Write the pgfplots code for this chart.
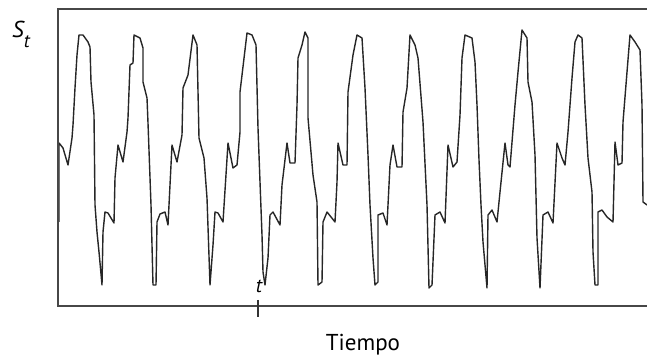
\documentclass[border=0pt]{standalone}
\usepackage{pgfplots}
\pgfplotsset{compat=1.18}
\usepackage{fontspec}
\setmainfont{PT Sans}
\begin{document}
\begin{tikzpicture}
\path[use as bounding box] (0,0) rectangle (647bp,356bp);
\begin{axis}[
  at={(58bp,50bp)}, anchor=south west,
  scale only axis, width=589bp, height=297bp,
  xmin=58, xmax=647, ymin=0, ymax=297,
  axis line style={draw=none},
  xtick=\empty, ytick=\empty,
  clip=false,
]
\addplot[color=black!85, line width=1.4bp, line join=round] coordinates {
(59,84) (59,163) (63,158) (68,141) (72,168) (73,181) (75,218) (77,251) (79,271) (83,271) (88,264) (90,259) (91,224) (94,191) (95,101) (97,74) (99,54) (102,21)
(103,74) (105,94) (108,93) (114,83) (115,128) (118,161) (123,144) (127,174) (128,188) (130,241) (133,243) (134,271) (140,268) (143,258) (143,224) (147,208) (148,183) (151,101) (153,21) (156,21)
(157,84) (160,92) (165,94) (168,81) (172,161) (177,144) (182,171) (183,218) (188,231) (193,271) (197,261) (199,168) (204,148) (207,108) (210,21)
(213,61) (215,94) (218,93) (223,84) (228,163) (233,138) (237,141) (240,174) (240,214) (247,273) (252,271) (256,261) (258,178) (260,124) (262,71) (263,34) (265,21)
(268,48) (270,91) (273,94) (280,81) (282,121) (287,163) (290,143) (295,143) (297,201) (298,248) (302,261) (305,274) (308,268) (308,188) (313,131) (317,104) (318,21) (322,24)
(323,84) (327,94) (335,84) (337,124) (338,163) (343,141) (347,141) (348,214) (353,251) (357,271) (362,268) (365,218) (368,151) (370,101) (373,48) (375,21) (378,24)
(378,91) (383,93) (387,81) (390,141) (393,161) (397,139) (402,139) (403,194) (407,218) (410,271) (415,261) (418,248) (423,184) (427,101) (429,18) (432,21)
(435,91) (440,94) (445,83) (448,161) (453,139) (457,144) (460,191) (462,248) (465,271) (472,268) (475,244) (477,201) (479,146) (481,101) (483,64) (487,18)
(488,91) (492,96) (497,84) (500,114) (505,163) (508,141) (510,139) (515,201) (518,234) (522,276) (527,268) (528,224) (532,204) (535,151) (537,68) (540,18)
(543,91) (548,94) (553,83) (557,163) (562,148) (565,141) (568,174) (572,228) (575,264) (578,271) (582,268) (585,201) (588,148) (592,114) (593,54) (595,21) (598,21)
(598,94) (602,96) (607,89) (613,84) (615,164) (618,141) (622,143) (623,184) (627,234) (630,271) (635,264) (640,256) (642,201) (643,104) (647,101)
};
\draw[color=black!72, line width=1.4bp] (rel axis cs:1,1) -- (rel axis cs:0,1) -- (rel axis cs:0,0) -- (rel axis cs:1,0);
\draw[color=black!80, line width=1.2bp] ([yshift=6bp]axis cs:258,0) -- ([yshift=-11bp]axis cs:258,0);
\node[anchor=base, inner sep=0pt, font=\fontsize{20bp}{24bp}\selectfont\itshape] at ([yshift=13bp,xshift=1bp]axis cs:258,0) {t};
\end{axis}
\node[anchor=base west, inner sep=0pt, font=\fontsize{23bp}{27bp}\selectfont\itshape] at (12bp,318bp) {S\raisebox{-10bp}{\fontsize{19bp}{22bp}\selectfont t}};
\node[anchor=base, inner sep=0pt, font=\fontsize{23bp}{27bp}\selectfont] at (363bp,6bp) {Tiempo};
\end{tikzpicture}
\end{document}
